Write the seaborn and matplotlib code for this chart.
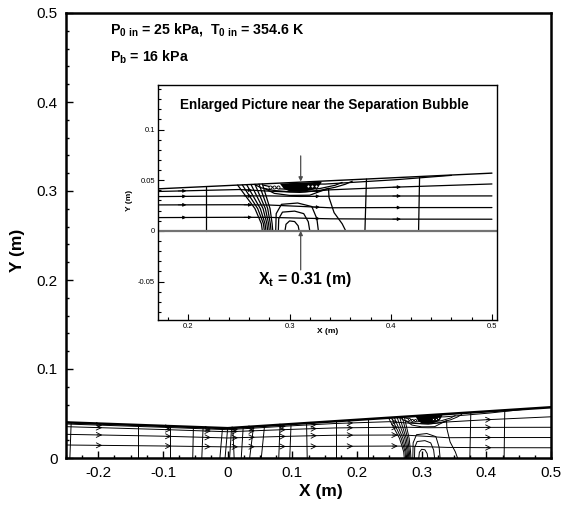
import numpy as np
import pandas as pd
import matplotlib
matplotlib.use("Agg")
import matplotlib.pyplot as plt
from matplotlib.ticker import MultipleLocator, FuncFormatter
import seaborn as sns

# ---------------- data ----------------
# upper nozzle wall (lower wall is y = 0)
wall_x = [-0.25, 0.0, 0.5]
wall_y = [0.040, 0.0335, 0.057]

# streamlines: y values at stations
stream_x = [-0.25, -0.10, 0.0, 0.10, 0.167, 0.25, 0.28, 0.31, 0.34, 0.40, 0.50]
stream_1 = [0.0382, 0.0345, 0.0318, 0.0362, 0.0388, 0.0408, 0.0392, 0.0380, 0.0405, 0.0430, 0.0463]
stream_2 = [0.0352, 0.0320, 0.0295, 0.0322, 0.0338, 0.0345, 0.0345, 0.0340, 0.0342, 0.0344, 0.0345]
stream_3 = [0.0266, 0.0245, 0.0225, 0.0245, 0.0256, 0.0258, 0.0255, 0.0242, 0.0228, 0.0230, 0.0230]
stream_4 = [0.0146, 0.0135, 0.0125, 0.0130, 0.0131, 0.0134, 0.0133, 0.0126, 0.0119, 0.0116, 0.0115]
stream_0_x = [0.300, 0.335, 0.405, 0.460]
stream_0_y = [0.0462, 0.0462, 0.0505, 0.0548]

# arrow positions on streamlines
outer_arrow_x = [-0.202, -0.095, -0.034, 0.008, 0.034, 0.082, 0.130, 0.186, 0.255, 0.400]
inset_arrow_x = [0.190, 0.255, 0.322, 0.402]

# nearly straight contour lines: x at bottom wall and x at upper wall
line_bot = [-0.244, -0.139, -0.089, -0.054, -0.040, -0.012, -0.004, 0.003, 0.010,
            0.021, 0.034, 0.052, 0.079, 0.096, 0.123, 0.168, 0.217, 0.3745, 0.4275]
line_top = [-0.242, -0.139, -0.089, -0.053, -0.038, -0.008, 0.000, 0.006, 0.008,
            0.024, 0.040, 0.057, 0.081, 0.098, 0.122, 0.168, 0.217, 0.3760, 0.4285]

# shock cluster: x at wall, at y=0.022, at y=0.007, at y=0
shock_levels = [0.022, 0.007, 0.0]
shock_top = [0.2487, 0.2533, 0.2576, 0.2619, 0.2658, 0.2698, 0.2731]
shock_mid = [0.2658, 0.2685, 0.2711, 0.2738, 0.2761, 0.2784, 0.2807]
shock_low = [0.2722, 0.2742, 0.2758, 0.2776, 0.2793, 0.2810, 0.2828]
shock_bot = [0.2731, 0.2751, 0.2767, 0.2784, 0.2800, 0.2817, 0.2834]

# arch-shaped contours below the bubble
arcA_x = [0.2955, 0.2965, 0.3000, 0.3050, 0.3085, 0.3095]
arcA_y = [0.0, 0.0065, 0.0098, 0.0092, 0.0050, 0.0]
arcB_x = [0.2889, 0.2893, 0.2930, 0.3050, 0.3140, 0.3185, 0.3200]
arcB_y = [0.0, 0.0120, 0.0185, 0.0195, 0.0170, 0.0090, 0.0]
arcC_x = [0.2863, 0.2868, 0.2920, 0.3080, 0.3220, 0.3270, 0.3285]
arcC_y = [0.0, 0.0170, 0.0262, 0.0275, 0.0240, 0.0120, 0.0]
arcD_x = [0.2760, 0.2850, 0.3000, 0.3200, 0.3330, 0.3385, 0.3390, 0.3440, 0.3520, 0.3555]
arcD_y = [0.0415, 0.0370, 0.0350, 0.0352, 0.0400, 0.0420, 0.0330, 0.0180, 0.0070, 0.0]

# separation bubble
bub_outer_x = [0.266, 0.272, 0.285, 0.300, 0.315, 0.330, 0.345, 0.355, 0.362]
bub_outer_y = [0.0455, 0.0425, 0.0398, 0.0386, 0.0386, 0.0400, 0.0430, 0.0460, 0.0490]
bub_inner_x = [0.274, 0.290, 0.310, 0.330, 0.345, 0.352]
bub_inner_y = [0.0452, 0.0415, 0.0405, 0.0418, 0.0450, 0.0478]
core_x = [0.290, 0.294, 0.300, 0.310, 0.320, 0.327, 0.331]
core_y = [0.0470, 0.0418, 0.0393, 0.0390, 0.0402, 0.0428, 0.0478]
loop_x = [0.281, 0.285, 0.289, 0.318, 0.322, 0.326]
loop_y = [0.0434, 0.0432, 0.0430, 0.0440, 0.0442, 0.0445]

# ---------------- build line table ----------------
rows = []
lid = 0
def add(xs, ys, kind):
    global lid
    for x, y in zip(xs, ys):
        rows.append((lid, kind, x, y))
    lid += 1

for s in [stream_1, stream_2, stream_3, stream_4]:
    add(stream_x, s, "stream")
add(stream_0_x, stream_0_y, "stream")
for b, t in zip(line_bot, line_top):
    add([b, t], [0.0, float(np.interp(t, wall_x, wall_y))], "contour")
for t, m, l, b in zip(shock_top, shock_mid, shock_low, shock_bot):
    add([t, m, l, b], [float(np.interp(t, wall_x, wall_y))] + shock_levels, "contour")
for xs, ys in [(arcA_x, arcA_y), (arcB_x, arcB_y), (arcC_x, arcC_y), (arcD_x, arcD_y),
               (bub_outer_x, bub_outer_y), (bub_inner_x, bub_inner_y)]:
    add(xs, ys, "contour")
df = pd.DataFrame(rows, columns=["line", "kind", "x", "y"])

# ---------------- figure ----------------
sns.set_style("white")
plt.rcParams["font.family"] = ["Liberation Sans", "DejaVu Sans"]
plt.rcParams["mathtext.fontset"] = "custom"
plt.rcParams["mathtext.rm"] = "Liberation Sans"
plt.rcParams["mathtext.bf"] = "Liberation Sans:bold"
for key in ["text.color", "axes.labelcolor", "xtick.color", "ytick.color",
            "xtick.labelcolor", "ytick.labelcolor"]:
    plt.rcParams[key] = "black"

fig = plt.figure(figsize=(5.65, 5.09), dpi=100)
ax = fig.add_axes([66 / 565, 1 - 458 / 509, 485 / 565, 445 / 509])
axi = fig.add_axes([158 / 565, 1 - 320 / 509, 339 / 565, 235 / 509])

fmt = FuncFormatter(lambda v, p: f"{round(v, 3) + 0:g}")

def draw_flow(a, lw, wall_lw, arrow_x, arrowstyle, ms, mscale):
    sns.lineplot(data=df, x="x", y="y", units="line", estimator=None, sort=False,
                 color="black", lw=lw, ax=a, legend=False)
    sns.lineplot(x=wall_x, y=wall_y, color="black", lw=wall_lw, ax=a, legend=False,
                 estimator=None, sort=False)
    cx = np.array(core_x)
    a.fill_between(cx, core_y, np.interp(cx, wall_x, wall_y), color="black", lw=0)
    a.plot(loop_x, loop_y, ls="none", marker="o", mfc="white", mec="black",
           ms=ms, mew=0.6)
    for s in [stream_1, stream_2, stream_3, stream_4]:
        for xa in arrow_x:
            dx = 0.008
            y0 = np.interp(xa, stream_x, s)
            y1 = np.interp(xa + dx, stream_x, s)
            a.annotate("", xy=(xa + dx, y1), xytext=(xa, y0),
                       arrowprops=dict(arrowstyle=arrowstyle, color="black", lw=0.6,
                                       shrinkA=0, shrinkB=0, mutation_scale=mscale))

# outer axes
draw_flow(ax, 0.7, 1.8, outer_arrow_x, "->", 1.5, 9)
ax.set_xlim(-0.25, 0.5)
ax.set_ylim(0, 0.5)
ax.xaxis.set_major_locator(MultipleLocator(0.1))
ax.xaxis.set_minor_locator(MultipleLocator(0.025))
ax.yaxis.set_major_locator(MultipleLocator(0.1))
ax.yaxis.set_minor_locator(MultipleLocator(0.02))
ax.xaxis.set_major_formatter(fmt)
ax.yaxis.set_major_formatter(fmt)
ax.tick_params(which="both", direction="in", bottom=True, left=True, top=False, right=False,
               width=1.0, color="black", labelcolor="black")
ax.tick_params(which="major", length=5, labelsize=11, pad=6)
ax.tick_params(which="minor", length=2.5)
for sp in ax.spines.values():
    sp.set_linewidth(1.8)
    sp.set_color("black")
ax.set_xlabel("X (m)", fontsize=12.5, fontweight="bold", color="black")
ax.set_ylabel("Y (m)", fontsize=12.5, fontweight="bold", color="black")
ax.xaxis.set_label_coords(0.526, -0.058)
ax.yaxis.set_label_coords(-0.085, 0.467)
ax.text(-0.182, 0.481, r"$\mathbf{P_{0\ in}}$ = 25 kPa,  $\mathbf{T_{0\ in}}$ = 354.6 K",
        fontsize=10.2, fontweight="bold", va="center", ha="left", color="black")
ax.text(-0.182, 0.4506, r"$\mathbf{P_{b}}$ = 16 kPa",
        fontsize=10.2, fontweight="bold", va="center", ha="left", color="black")

# inset
axi.set_facecolor("white")
draw_flow(axi, 0.9, 1.0, inset_arrow_x, "-|>", 2.2, 5)
sns.lineplot(x=[0.17, 0.505], y=[0.0, 0.0], color="0.45", lw=1.6, ax=axi, legend=False)
axi.set_xlim(0.17, 0.505)
axi.set_ylim(-0.088, 0.144)
axi.xaxis.set_major_locator(MultipleLocator(0.1))
axi.xaxis.set_minor_locator(MultipleLocator(0.02))
axi.yaxis.set_major_locator(MultipleLocator(0.05))
axi.yaxis.set_minor_locator(MultipleLocator(0.01))
axi.xaxis.set_major_formatter(fmt)
axi.yaxis.set_major_formatter(fmt)
axi.tick_params(which="both", direction="in", bottom=True, left=True, top=False, right=False,
                width=0.8, color="black", labelcolor="black")
axi.tick_params(which="major", length=4, labelsize=5.5, pad=2)
axi.tick_params(which="minor", length=2)
for sp in axi.spines.values():
    sp.set_linewidth(1.0)
    sp.set_color("black")
axi.set_xlabel("X (m)", fontsize=6, fontweight="bold", color="black")
axi.set_ylabel("Y (m)", fontsize=6, fontweight="bold", color="black")
axi.xaxis.set_label_coords(0.50, -0.036)
axi.yaxis.set_label_coords(-0.074, 0.508)
axi.text(0.334, 0.1242, "Enlarged Picture near the Separation Bubble",
         fontsize=9.8, fontweight="bold", ha="center", va="center", color="black")
axi.annotate("", xy=(0.311, 0.0487), xytext=(0.311, 0.074),
             arrowprops=dict(arrowstyle="-|>", color="0.3", lw=0.9, mutation_scale=6,
                             shrinkA=0, shrinkB=0))
axi.annotate("", xy=(0.311, 0.0), xytext=(0.311, -0.0385),
             arrowprops=dict(arrowstyle="-|>", color="0.3", lw=0.9, mutation_scale=6,
                             shrinkA=0, shrinkB=0))
axi.text(0.3153, -0.0483, r"$\mathbf{X_{t}}$ = 0.31 (m)", fontsize=11.3,
         fontweight="bold", ha="center", va="center", color="black")

fig.savefig("out.png", dpi=100)
